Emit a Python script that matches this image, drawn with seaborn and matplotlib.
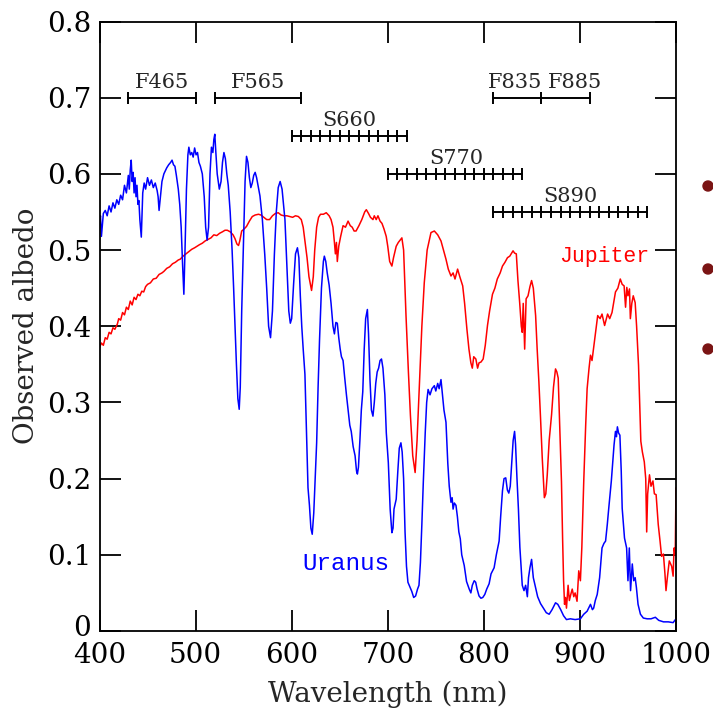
import numpy as np
import pandas as pd
import matplotlib
matplotlib.use("Agg")
import matplotlib.pyplot as plt
import matplotlib.transforms as mtransforms
import seaborn as sns
from matplotlib.patches import Ellipse

# ---------------- data ----------------
uranus_pts = [
    (400, 0.535), (401, 0.545), (402, 0.518), (404, 0.548), (406, 0.552), (408, 0.545), (410, 0.558),
    (412, 0.550), (414, 0.562), (416, 0.555), (418, 0.566), (420, 0.560), (422, 0.572), (424, 0.566),
    (426, 0.585), (428, 0.575), (430, 0.598), (431, 0.580), (432, 0.605), (433, 0.618), (434, 0.590),
    (435, 0.602), (436, 0.575), (437, 0.595), (438, 0.570), (439, 0.585), (440, 0.560), (441, 0.565),
    (442, 0.54), (443.5, 0.517), (445, 0.575), (446.5, 0.588), (448, 0.580), (450, 0.595), (452, 0.585),
    (454, 0.592), (456, 0.582), (458, 0.588), (460, 0.578), (461, 0.570), (462, 0.552), (463, 0.565),
    (465, 0.590), (467, 0.600), (470, 0.608), (472, 0.612), (474, 0.615), (475.5, 0.618), (477, 0.612),
    (478.5, 0.610), (480, 0.598), (482, 0.580), (483.5, 0.560), (485, 0.53), (486.5, 0.48), (487.8, 0.442),
    (489, 0.50), (490.5, 0.58), (492, 0.625), (493, 0.635), (494.5, 0.625), (496, 0.628), (497.5, 0.622),
    (499, 0.634), (500.5, 0.625), (502, 0.628), (503.5, 0.615), (505, 0.61), (507, 0.60), (509, 0.57),
    (510.5, 0.53), (512, 0.513), (513.5, 0.53), (515, 0.60), (516.5, 0.635), (518, 0.628), (519, 0.645),
    (520, 0.652), (521, 0.63), (522.5, 0.60), (524.7, 0.58), (526.5, 0.59), (528, 0.615), (529.5, 0.628),
    (531, 0.62), (532.5, 0.60), (534, 0.585), (536, 0.55), (538, 0.50), (539.6, 0.45), (541, 0.40),
    (542.5, 0.35), (544, 0.305), (545.4, 0.291), (546.5, 0.32), (548, 0.42), (550, 0.517), (551.5, 0.59),
    (553, 0.623), (554.5, 0.615), (556, 0.595), (557.5, 0.582), (559, 0.588), (560.5, 0.598), (562, 0.602),
    (563.5, 0.595), (565, 0.585), (567, 0.571), (569.5, 0.54), (572, 0.494), (574, 0.45), (576, 0.40),
    (578, 0.385), (580, 0.42), (582, 0.494), (584, 0.55), (586, 0.582), (588, 0.59), (590, 0.58),
    (591.5, 0.56), (593, 0.54), (595, 0.48), (597, 0.42), (598.6, 0.404), (600, 0.41), (602, 0.455),
    (604, 0.495), (606, 0.503), (607.5, 0.49), (609, 0.44), (610.5, 0.40), (612, 0.37), (613.8, 0.337),
    (615.5, 0.26), (617, 0.188), (618.5, 0.165), (620, 0.135), (621.4, 0.127), (623, 0.155), (624.5, 0.20),
    (626, 0.247), (627.5, 0.32), (629, 0.382), (631, 0.45), (633, 0.485), (634, 0.492), (635.5, 0.485),
    (637, 0.47), (639, 0.454), (641, 0.43), (643, 0.40), (644.5, 0.39), (646, 0.405), (647.5, 0.404),
    (649, 0.385), (650.5, 0.37), (651.8, 0.36), (653.5, 0.355), (655, 0.335), (657, 0.31), (658.7, 0.291),
    (660.5, 0.27), (662, 0.262), (664, 0.242), (666, 0.23), (667.5, 0.21), (668.4, 0.206), (669.5, 0.215),
    (671, 0.25), (672.5, 0.29), (674, 0.314), (675.5, 0.37), (677, 0.41), (678.8, 0.422), (680, 0.39),
    (681.5, 0.33), (683, 0.29), (684.6, 0.282), (686, 0.30), (687.5, 0.325), (689, 0.34), (690.5, 0.345),
    (692, 0.355), (693.5, 0.357), (695, 0.345), (697, 0.31), (698.5, 0.26), (700.6, 0.221), (702.5, 0.16),
    (704.3, 0.129), (705.5, 0.135), (706.5, 0.16), (708.8, 0.173), (710.5, 0.21), (712, 0.24), (713.7, 0.247),
    (715, 0.235), (716.5, 0.20), (718, 0.13), (719.5, 0.085), (721, 0.064), (723, 0.058), (725, 0.052),
    (727, 0.044), (729, 0.046), (731, 0.055), (732.5, 0.06), (734, 0.09), (735.5, 0.14), (737, 0.195),
    (739, 0.26), (740.5, 0.30), (742, 0.317), (744, 0.31), (746, 0.318), (748.5, 0.322), (750, 0.315),
    (752, 0.325), (753.5, 0.318), (755.4, 0.33), (757, 0.31), (758.5, 0.29), (760.6, 0.274), (762.5, 0.22),
    (764, 0.19), (765.8, 0.169), (767, 0.175), (768, 0.16), (769.3, 0.168), (771, 0.165), (772.5, 0.15),
    (774, 0.13), (775.5, 0.121), (777, 0.10), (779.6, 0.086), (782, 0.065), (784.8, 0.055), (786.5, 0.05),
    (788, 0.06), (790, 0.066), (791.5, 0.064), (793, 0.055), (795, 0.046), (797, 0.043), (798.9, 0.044),
    (801, 0.048), (803, 0.055), (805.5, 0.062), (807.5, 0.075), (810.7, 0.083), (813, 0.10), (815.9, 0.118),
    (817.5, 0.15), (819.4, 0.184), (821, 0.20), (822.8, 0.201), (824.5, 0.185), (826, 0.181), (827.5, 0.19),
    (829, 0.22), (830.5, 0.25), (832, 0.262), (833, 0.245), (834.5, 0.20), (836, 0.16), (837.5, 0.11),
    (838.8, 0.085), (840, 0.06), (841.8, 0.053), (843.5, 0.06), (845.3, 0.045), (846.5, 0.07), (848, 0.083),
    (849.7, 0.094), (851.5, 0.07), (853.9, 0.057), (856, 0.045), (859, 0.036), (862, 0.03), (865, 0.024),
    (868, 0.022), (871, 0.028), (874.6, 0.037), (877, 0.035), (880, 0.028), (883, 0.02), (886, 0.015),
    (890, 0.016), (895, 0.015), (900.5, 0.016), (904, 0.022), (907.5, 0.026), (911, 0.035), (913, 0.028),
    (914.3, 0.03), (916, 0.04), (918, 0.048), (920.5, 0.07), (923, 0.109), (925, 0.115), (926.7, 0.118),
    (928.5, 0.14), (930, 0.161), (932.7, 0.197), (935.5, 0.244), (937, 0.262), (938, 0.255), (939, 0.268),
    (940.2, 0.26), (941.6, 0.257), (943, 0.21), (944, 0.161), (946.4, 0.122), (948.6, 0.109), (950, 0.066),
    (951.4, 0.109), (952.7, 0.053), (954.5, 0.088), (956, 0.066), (957.5, 0.07), (958.8, 0.057),
    (960.5, 0.035), (963, 0.022), (966, 0.017), (970, 0.016), (974, 0.016), (978.5, 0.018), (982, 0.014),
    (987, 0.012), (992, 0.012), (997, 0.011), (1000, 0.016),
]

jupiter_pts = [
    (400, 0.372), (402, 0.378), (404, 0.375), (406, 0.385), (408, 0.383), (410, 0.392), (412, 0.39),
    (414, 0.398), (416, 0.396), (418.6, 0.403), (420, 0.41), (422, 0.408), (424, 0.418), (426, 0.415),
    (428, 0.425), (430, 0.422), (432, 0.433), (434, 0.428), (436, 0.438), (438, 0.435), (440, 0.442),
    (442, 0.440), (444, 0.446), (446, 0.445), (448, 0.452), (450, 0.455), (453, 0.457), (456, 0.462),
    (459, 0.463), (462, 0.468), (465, 0.470), (467, 0.472), (470, 0.476), (473, 0.478), (476, 0.482),
    (479, 0.484), (482, 0.487), (484, 0.488), (487, 0.492), (490, 0.495), (493, 0.498), (496, 0.501),
    (499, 0.503), (501.5, 0.505), (504, 0.507), (507, 0.509), (510, 0.512), (513, 0.514), (516, 0.516),
    (519, 0.520), (522, 0.519), (525, 0.522), (528, 0.524), (530.6, 0.526), (533, 0.526), (536, 0.524),
    (539, 0.52), (541, 0.515), (543, 0.508), (544.7, 0.506), (546, 0.512), (548, 0.525), (550, 0.527),
    (553, 0.531), (556, 0.538), (559, 0.544), (562, 0.546), (565.5, 0.547), (568, 0.546), (571, 0.543),
    (574, 0.54), (577, 0.54), (580, 0.545), (583, 0.548), (586, 0.549), (589, 0.546), (592, 0.545),
    (595, 0.545), (598, 0.544), (601, 0.543), (604, 0.545), (607, 0.544), (610, 0.54), (612, 0.53),
    (614, 0.51), (616, 0.49), (618, 0.465), (620.7, 0.447), (622.5, 0.465), (624, 0.5), (626, 0.53),
    (628, 0.543), (630, 0.547), (633, 0.547), (636, 0.549), (639, 0.545), (641, 0.54), (643, 0.53),
    (644.5, 0.51), (645.5, 0.495), (646.6, 0.51), (647.5, 0.485), (649, 0.505), (651, 0.518), (653.5, 0.532),
    (656, 0.53), (658.7, 0.538), (661, 0.532), (663, 0.53), (665, 0.525), (667, 0.525), (670, 0.532),
    (673, 0.54), (676, 0.55), (677.7, 0.553), (680, 0.548), (682, 0.543), (684.6, 0.54), (686, 0.545),
    (688, 0.54), (689.8, 0.545), (692, 0.538), (694, 0.535), (696, 0.528), (698.4, 0.518), (700, 0.505),
    (702, 0.485), (704.3, 0.479), (706, 0.49), (708.8, 0.505), (711, 0.51), (714.7, 0.516), (716.5, 0.5),
    (719, 0.414), (721.5, 0.34), (723.6, 0.283), (726, 0.23), (728.5, 0.208), (730.5, 0.25), (733, 0.326),
    (735.5, 0.40), (738, 0.457), (741, 0.5), (745, 0.523), (748.5, 0.525), (752, 0.52), (755.4, 0.512),
    (758, 0.50), (760.6, 0.488), (763, 0.475), (765.8, 0.466), (768, 0.47), (770, 0.462), (772.7, 0.475),
    (775, 0.465), (778, 0.453), (780, 0.43), (782.4, 0.396), (784.5, 0.37), (786.5, 0.352), (788, 0.345),
    (789.5, 0.36), (791.7, 0.357), (793.5, 0.345), (795, 0.352), (797, 0.353), (799.3, 0.357),
    (801.5, 0.375), (803.8, 0.401), (806, 0.42), (809, 0.442), (811.5, 0.45), (814, 0.462), (817, 0.47),
    (819.4, 0.479), (822, 0.484), (824.6, 0.49), (827, 0.492), (830.4, 0.499), (832, 0.496), (833.8, 0.495),
    (835.5, 0.46), (837.3, 0.431), (839, 0.40), (840, 0.392), (841, 0.43), (842.5, 0.37), (844, 0.436),
    (846, 0.44), (848, 0.452), (849.7, 0.46), (851.5, 0.45), (853.9, 0.414), (855.5, 0.37), (857.3, 0.327),
    (859, 0.28), (860.8, 0.227), (863, 0.175), (864.5, 0.18), (866, 0.205), (868, 0.25), (870.5, 0.284),
    (872.5, 0.32), (874.6, 0.344), (876, 0.34), (877.4, 0.332), (879, 0.27), (880.8, 0.196), (882, 0.12),
    (883, 0.066), (884, 0.035), (885, 0.044), (886, 0.03), (887.7, 0.06), (889, 0.04), (890.5, 0.048),
    (892, 0.055), (893.6, 0.045), (895, 0.05), (897, 0.039), (898.8, 0.079), (900.5, 0.066), (902, 0.11),
    (904, 0.197), (906, 0.27), (907.5, 0.318), (909.5, 0.345), (911, 0.362), (912.6, 0.355), (915, 0.379),
    (917, 0.40), (918.5, 0.414), (921, 0.41), (923, 0.416), (925.7, 0.401), (928.8, 0.416), (931, 0.41),
    (933.4, 0.418), (935, 0.43), (937, 0.445), (939.5, 0.45), (942, 0.462), (944, 0.455), (946, 0.453),
    (947.5, 0.425), (948.8, 0.451), (950, 0.44), (951.6, 0.449), (952.5, 0.41), (954, 0.43), (955.5, 0.44),
    (957.5, 0.431), (959, 0.40), (961, 0.349), (963.4, 0.249), (965, 0.235), (967, 0.222), (968.5, 0.2),
    (969.5, 0.13), (970.5, 0.18), (972.4, 0.205), (974, 0.19), (976, 0.197), (977.5, 0.18), (979.3, 0.179),
    (981.5, 0.14), (983.4, 0.118), (985, 0.098), (986.9, 0.101), (988.5, 0.075), (989.6, 0.053), (991, 0.07),
    (993, 0.092), (995.5, 0.085), (997, 0.072), (998, 0.109), (999.2, 0.10), (1000, 0.188),
]

# filter bars
filter_names = ["F465", "F565", "F835", "F885", "S660", "S770", "S890"]
filter_centers = [465, 565, 832, 895, 660, 771, 890]
filter_levels = [0.70, 0.70, 0.70, 0.70, 0.65, 0.60, 0.55]
bar_ticks_F465 = [430, 500]
bar_ticks_F565 = [520, 610]
bar_ticks_F835_F885 = [810, 860, 910]
bar_ticks_S660 = [600, 610, 620, 630, 640, 650, 660, 670, 680, 690, 700, 710, 720]
bar_ticks_S770 = [700, 710, 720, 730, 740, 750, 760, 770, 780, 790, 800, 810, 820, 830, 840]
bar_ticks_S890 = [810, 820, 830, 840, 850, 860, 870, 880, 890, 900, 910, 920, 930, 940, 950, 960, 970]

x_ticks = [400, 500, 600, 700, 800, 900, 1000]
y_ticks = [0, 0.1, 0.2, 0.3, 0.4, 0.5, 0.6, 0.7, 0.8]
y_ticklabels = ["0", "0.1", "0.2", "0.3", "0.4", "0.5", "0.6", "0.7", "0.8"]

# ---------------- plotting ----------------
sns.set_style("ticks")
plt.rcParams["font.family"] = ["DejaVu Serif"]

W, H = 713, 715
fig = plt.figure(figsize=(W / 100, H / 100), dpi=100)
ax = fig.add_axes([99.5 / W, 84 / H, (676 - 99.5) / W, (631 - 21.5) / H])

udf = pd.DataFrame(uranus_pts, columns=["wl", "albedo"])
jdf = pd.DataFrame(jupiter_pts, columns=["wl", "albedo"])
sns.lineplot(data=jdf, x="wl", y="albedo", ax=ax, color="#ff0000", lw=1.1,
             estimator=None, sort=False)
sns.lineplot(data=udf, x="wl", y="albedo", ax=ax, color="#0000ff", lw=1.1,
             estimator=None, sort=False)

bars = [(bar_ticks_F465, 0.70), (bar_ticks_F565, 0.70), (bar_ticks_F835_F885, 0.70),
        (bar_ticks_S660, 0.65), (bar_ticks_S770, 0.60), (bar_ticks_S890, 0.55)]
for ticks, lvl in bars:
    ax.plot(ticks, [lvl] * len(ticks), color="black", lw=1.4, marker="|",
            markersize=9, markeredgewidth=1.4)
for name, cx, lvl in zip(filter_names, filter_centers, filter_levels):
    ax.text(cx, lvl + 0.008, name, ha="center", va="bottom", fontsize=15,
            family="DejaVu Serif")

ax.text(656.5, 0.089, "Uranus", color="#0000ff", ha="center", va="center",
        fontsize=17.5, family="Liberation Mono")
ax.text(925.5, 0.491, "Jupiter", color="#ff0000", ha="center", va="center",
        fontsize=15.5, family="Liberation Mono")

ax.set_xlim(400, 1000)
ax.set_ylim(0, 0.8)
ax.set_xticks(x_ticks)
ax.set_xticklabels([str(v) for v in x_ticks])
ax.set_yticks(y_ticks)
ax.set_yticklabels(y_ticklabels)
ax.tick_params(direction="in", length=15, width=1.3, top=True, right=True,
               labelsize=20, colors="black")
ax.tick_params(axis="x", pad=8)
ax.tick_params(axis="y", pad=6)
for s in ax.spines.values():
    s.set_linewidth(1.3)
    s.set_color("black")
ax.set_xlabel("Wavelength (nm)", fontsize=20, labelpad=8)
ax.set_ylabel("Observed albedo", fontsize=20, labelpad=5)

# lift the "0" label a little so it does not collide with "400"
zero_lbl = ax.get_yticklabels()[0]
zero_lbl.set_transform(zero_lbl.get_transform() +
                       mtransforms.ScaledTranslation(0, 5 / 100, fig.dpi_scale_trans))

# slide bullets cut off at the right edge
for py in [186, 269, 349]:
    fig.add_artist(Ellipse((708 / W, 1 - py / H), 10 / W, 10 / H,
                           transform=fig.transFigure, color="#7a1414"))

fig.savefig("out.png", dpi=100)
